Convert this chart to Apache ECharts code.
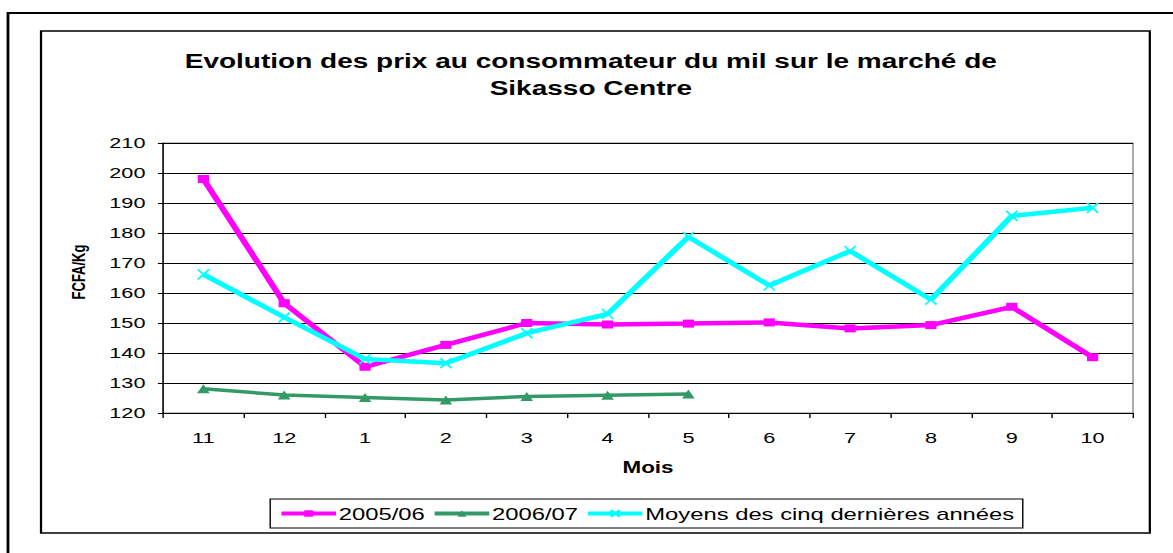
<!DOCTYPE html>
<html>
<head>
<meta charset="utf-8">
<script src="https://cdn.jsdelivr.net/npm/echarts@6/dist/echarts.min.js"></script>
<style>
  html, body { margin: 0; padding: 0; background: #fff; overflow: hidden; }
  /* the reference picture is stretched horizontally, so draw narrower and stretch */
  #chart { width: 838px; height: 553px; transform: scaleX(1.4); transform-origin: 0 0; }
</style>
</head>
<body>
<div id="chart"></div>
<script>
// months (Nov -> Oct)
var months = ["11", "12", "1", "2", "3", "4", "5", "6", "7", "8", "9", "10"];

// prices in FCFA/Kg
var prix2005 = [198, 156.6, 135.4, 142.7, 150, 149.5, 149.8, 150.2, 148.2, 149.3, 155.4, 138.6];
var prix2006 = [128.1, 126, 125.2, 124.3, 125.5, 125.9, 126.3, null, null, null, null, null];
var moyenne5 = [166.2, 151.9, 138, 136.6, 146.6, 153, 178.7, 162.5, 174, 157.8, 185.7, 188.4];

var FONT = "Liberation Sans";
var xMark = "path://M0,0L10,10M10,0L0,10";

var chart = echarts.init(document.getElementById("chart"), null, { renderer: "svg" });

var option = {
  animation: false,
  backgroundColor: "#fff",
  textStyle: { fontFamily: FONT },
  title: {
    text: "Evolution des prix au consommateur du mil sur le marché de\nSikasso Centre",
    left: 417,
    textAlign: "center",
    top: 43,
    textStyle: {
      fontFamily: FONT,
      fontSize: 20,
      fontWeight: "bold",
      color: "#000",
      lineHeight: 27
    }
  },
  graphic: [
    // outer page frame
    { type: "rect", shape: { x: 5.7, y: 13, width: 900, height: 600 },
      style: { fill: null, stroke: "#000", lineWidth: 2 }, silent: true },
    // chart area frame
    { type: "rect", shape: { x: 29.3, y: 31, width: 792, height: 502 },
      style: { fill: null, stroke: "#000", lineWidth: 1.6 }, silent: true }
  ],
  legend: {
    top: 499,
    left: 193,
    orient: "horizontal",
    itemWidth: 39,
    itemHeight: 8,
    itemGap: 5,
    padding: [6, 6],
    borderColor: "#000",
    borderWidth: 1,
    lineStyle: { width: 4 },
    textStyle: { fontFamily: FONT, fontSize: 17, color: "#000", padding: [0, 0, 0, -3] },
    data: ["2005/06", "2006/07", "Moyens des cinq dernières années"]
  },
  grid: {
    left: 116.4,
    right: 28.7,
    top: 143,
    bottom: 140,
    show: true,
    borderColor: "#888",
    borderWidth: 1
  },
  xAxis: {
    type: "category",
    data: months,
    boundaryGap: true,
    name: "Mois",
    nameLocation: "middle",
    nameGap: 46,
    nameTextStyle: { fontFamily: FONT, fontSize: 16, fontWeight: "bold", color: "#000" },
    axisLine: { lineStyle: { color: "#000", width: 1 } },
    axisTick: { show: true, length: 5, lineStyle: { color: "#000" } },
    axisLabel: { margin: 17, fontFamily: FONT, fontSize: 15.5, color: "#000" },
    splitLine: { show: false }
  },
  yAxis: {
    type: "value",
    min: 120,
    max: 210,
    interval: 10,
    name: "FCFA/Kg",
    nameLocation: "middle",
    nameGap: 54,
    nameRotate: 90,
    nameTextStyle: { fontFamily: FONT, fontSize: 13, fontWeight: "bold", color: "#000", padding: [0, 0, 0, 12] },
    axisLine: { show: true, lineStyle: { color: "#000", width: 1 } },
    axisTick: { show: true, inside: false, length: 3.6, lineStyle: { color: "#000" } },
    axisLabel: { margin: 12.5, fontFamily: FONT, fontSize: 15.5, color: "#000" },
    splitLine: { show: true, lineStyle: { color: "#000", width: 1 } }
  },
  series: [
    {
      name: "2005/06",
      type: "line",
      data: prix2005,
      symbol: "rect",
      symbolSize: 8,
      showAllSymbol: true,
      lineStyle: { color: "#FF00FF", width: 4.5 },
      itemStyle: { color: "#FF00FF" }
    },
    {
      name: "2006/07",
      type: "line",
      data: prix2006,
      symbol: "triangle",
      symbolSize: 9,
      showAllSymbol: true,
      lineStyle: { color: "#339966", width: 3.5 },
      itemStyle: { color: "#339966" }
    },
    {
      name: "Moyens des cinq dernières années",
      type: "line",
      data: moyenne5,
      symbol: xMark,
      symbolSize: [8, 10],
      showAllSymbol: true,
      lineStyle: { color: "#00FFFF", width: 4.5 },
      itemStyle: { color: "#00FFFF", borderColor: "#00FFFF", borderWidth: 1.5 }
    }
  ]
};

chart.setOption(option);
</script>
</body>
</html>
